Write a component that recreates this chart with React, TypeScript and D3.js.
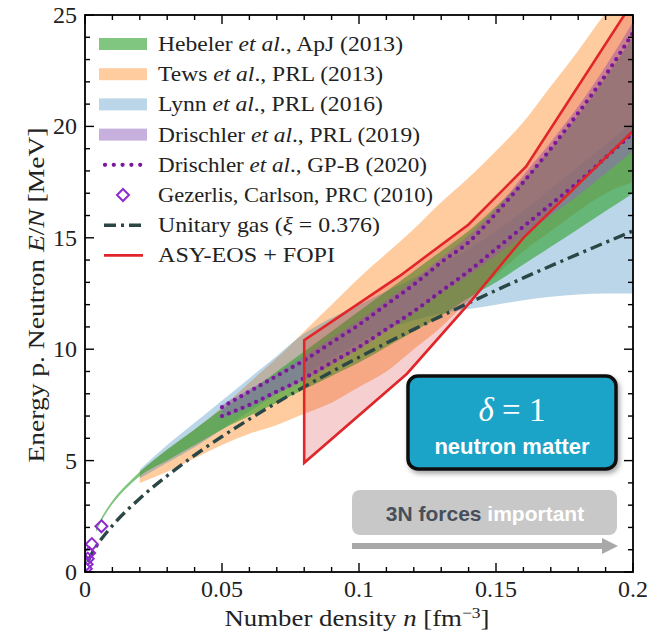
import React from "react";
import * as d3 from "d3";

// axis ticks
const densityTicks = [0, 0.05, 0.1, 0.15, 0.2];
const energyTicks = [0, 5, 10, 15, 20, 25];

// bands: [n, E lower, E upper] (MeV)
const hebeler = [
  [0.004, 1.8, 1.95], [0.007, 2.5, 2.65], [0.01, 3.05, 3.2], [0.015, 3.75, 3.9],
  [0.02, 4.3, 4.5], [0.03, 5.0, 5.5], [0.04, 5.7, 6.4], [0.05, 6.4, 7.3],
  [0.06, 7.0, 8.1], [0.07, 7.6, 9.0], [0.08, 8.2, 9.9], [0.09, 8.8, 10.8],
  [0.1, 9.4, 11.7], [0.11, 10.1, 12.6], [0.12, 10.8, 13.5], [0.13, 11.5, 14.4],
  [0.14, 12.3, 15.3], [0.15, 13.0, 16.4], [0.16, 13.8, 17.6], [0.17, 14.6, 19.0],
  [0.18, 15.4, 20.5], [0.19, 16.2, 22.2], [0.2, 17.0, 24.0],
];
const tews = [
  [0.02, 4.0, 4.5], [0.03, 4.5, 5.5], [0.04, 5.1, 6.4], [0.05, 5.7, 7.4],
  [0.06, 6.2, 8.5], [0.07, 6.6, 9.6], [0.08, 7.1, 10.8], [0.09, 7.6, 12.0],
  [0.1, 8.3, 13.2], [0.11, 9.0, 14.3], [0.12, 10.0, 15.4], [0.13, 11.0, 16.6],
  [0.14, 12.2, 17.7], [0.15, 13.3, 18.9], [0.16, 14.4, 20.2], [0.17, 15.3, 21.8],
  [0.18, 16.2, 23.4], [0.19, 17.0, 25.1], [0.2, 17.5, 26.5],
];
const lynn = [
  [0.02, 4.2, 4.6], [0.03, 4.9, 5.7], [0.04, 5.6, 6.7], [0.05, 6.4, 7.7],
  [0.06, 7.2, 8.7], [0.07, 8.0, 9.7], [0.08, 8.8, 10.7], [0.09, 9.6, 11.4],
  [0.1, 10.3, 12.0], [0.11, 10.9, 12.6], [0.12, 11.3, 13.2], [0.13, 11.6, 13.8],
  [0.14, 11.8, 14.5], [0.15, 12.0, 15.3], [0.16, 12.2, 16.2], [0.17, 12.35, 17.2],
  [0.18, 12.45, 18.2], [0.19, 12.5, 19.2], [0.2, 12.5, 20.2],
];
const drischler = [
  [0.05, 6.9, 7.5], [0.06, 7.4, 8.2], [0.07, 8.0, 8.9], [0.08, 8.6, 9.7],
  [0.09, 9.3, 10.5], [0.1, 10.0, 11.3], [0.11, 10.8, 12.2], [0.12, 11.6, 13.1],
  [0.13, 12.5, 14.1], [0.14, 13.3, 15.1], [0.15, 14.2, 16.3], [0.16, 15.1, 17.8],
  [0.17, 16.0, 19.3], [0.18, 16.9, 20.9], [0.19, 17.9, 22.7], [0.2, 18.9, 24.7],
];

// lines: [n, E]
const gpbUpper = [
  [0.05, 7.4], [0.06, 8.1], [0.07, 8.8], [0.08, 9.5], [0.09, 10.3], [0.1, 11.1],
  [0.11, 12.0], [0.12, 12.9], [0.13, 13.9], [0.14, 14.8], [0.15, 16.1], [0.16, 17.5],
  [0.17, 19.0], [0.18, 20.6], [0.19, 22.3], [0.2, 24.2],
];
const gpbLower = [
  [0.05, 7.0], [0.06, 7.5], [0.07, 8.1], [0.08, 8.7], [0.09, 9.4], [0.1, 10.1],
  [0.11, 10.9], [0.12, 11.7], [0.13, 12.6], [0.14, 13.5], [0.15, 14.5], [0.16, 15.5],
  [0.17, 16.5], [0.18, 17.5], [0.19, 18.6], [0.2, 19.7],
];
const gezerlis = [
  [0.0003, 0.15], [0.0006, 0.35], [0.001, 0.6], [0.0015, 0.85], [0.0025, 1.25], [0.006, 2.05],
];
const unitary = [
  [0.001, 0.45], [0.0025, 0.83], [0.005, 1.31], [0.01, 2.08], [0.02, 3.3], [0.03, 4.32],
  [0.04, 5.24], [0.05, 6.08], [0.06, 6.86], [0.08, 8.31], [0.1, 9.64], [0.12, 10.89],
  [0.14, 12.07], [0.16, 13.2], [0.18, 14.27], [0.2, 15.31],
];
const asyUpper = [[0.08, 10.4], [0.115, 13.3], [0.14, 15.6], [0.161, 18.2], [0.2, 25.6]];
const asyLower = [[0.08, 4.9], [0.1175, 8.9], [0.1405, 12.1], [0.16, 15.0], [0.2, 19.8]];

const legendLabels = [
  [["Hebeler ", 0], ["et al", 1], ["., ApJ (2013)", 0]],
  [["Tews ", 0], ["et al", 1], ["., PRL (2013)", 0]],
  [["Lynn ", 0], ["et al", 1], ["., PRL (2016)", 0]],
  [["Drischler ", 0], ["et al", 1], ["., PRL (2019)", 0]],
  [["Drischler ", 0], ["et al", 1], ["., GP-B (2020)", 0]],
  [["Gezerlis, Carlson, PRC (2010)", 0]],
  [["Unitary gas (", 0], ["ξ", 1], [" = 0.376)", 0]],
  [["ASY-EOS + FOPI", 0]],
];
const legendWidths = [245, 225, 225, 262, 269, 275, 222, 177];

const serif = "'Liberation Serif', 'Times New Roman', serif";
const sans = "'Liberation Sans', Arial, sans-serif";

const GREEN = "#2ca02c", ORANGE = "#ff7f0e", BLUE = "#1f77b4", PURPLE = "#9467bd";
const RED = "#e0262a", DOTS = "#7a1a9a", DIAMOND = "#8e2bd0", UNITARY = "#2b4745";

export default function App() {
  const left = 85, right = 633, top = 15, bottom = 572;
  const x = d3.scaleLinear().domain([0, 0.2]).range([left, right]);
  const y = d3.scaleLinear().domain([0, 25]).range([bottom, top]);

  const band = d3.area<number[]>()
    .x(d => x(d[0])).y0(d => y(d[1])).y1(d => y(d[2]))
    .curve(d3.curveMonotoneX);
  const curve = d3.line<number[]>().x(d => x(d[0])).y(d => y(d[1])).curve(d3.curveMonotoneX);
  const straight = d3.line<number[]>().x(d => x(d[0])).y(d => y(d[1]));

  const asyPath = [...asyLower.slice().reverse(), ...asyUpper];

  const xMinor = d3.range(0, 21).map(i => i * 0.01);
  const yMinor = d3.range(0, 26);

  const bands = [
    { data: tews, color: ORANGE, op: 0.4 },
    { data: lynn, color: BLUE, op: 0.3 },
    { data: hebeler, color: GREEN, op: 0.6 },
    { data: drischler, color: PURPLE, op: 0.52 },
  ];

  const rowY = (i: number) => 44 + i * 30.2;

  return (
    <div style={{ position: "absolute", left: 0, top: 0 }}>
      <svg width={662} height={634} style={{ display: "block", background: "#fff" }}>
        <defs>
          <clipPath id="plot">
            <rect x={left} y={top} width={right - left} height={bottom - top} />
          </clipPath>
          <filter id="shadow" x="-10%" y="-10%" width="130%" height="140%">
            <feDropShadow dx="2" dy="3" stdDeviation="2.5" floodColor="#000" floodOpacity="0.35" />
          </filter>
        </defs>

        <g clipPath="url(#plot)">
          {bands.map((b, i) => (
            <path key={i} d={band(b.data) || ""} fill={b.color} fillOpacity={b.op} stroke="none" />
          ))}
          <path d={(straight(asyPath) || "") + "Z"} fill="#d62728" fillOpacity={0.22} />
          <path d={curve(unitary) || ""} fill="none" stroke={UNITARY} strokeWidth={3.4}
            strokeDasharray="12,5,3,5" />
          {[gpbUpper, gpbLower].map((d, i) => (
            <path key={i} d={curve(d) || ""} fill="none" stroke={DOTS} strokeWidth={4.3}
              strokeLinecap="round" strokeDasharray="0,7.4" />
          ))}
          <path d={straight(asyPath) || ""} fill="none" stroke={RED} strokeWidth={2.6} />
          {gezerlis.map((d, i) => {
            const cx = x(d[0]), cy = y(d[1]), r = 6;
            return (
              <path key={i} d={`M${cx},${cy - r}L${cx + r},${cy}L${cx},${cy + r}L${cx - r},${cy}Z`}
                fill="none" stroke={DIAMOND} strokeWidth={2} />
            );
          })}
        </g>

        {/* frame and ticks */}
        <rect x={left} y={top} width={right - left} height={bottom - top} fill="none" stroke="#000" strokeWidth={1.8} />
        <g stroke="#000" strokeWidth={1.4}>
          {xMinor.map((v, i) => {
            const len = i % 5 === 0 ? 9 : 5;
            const px = x(v);
            return (
              <g key={"x" + i}>
                <line x1={px} x2={px} y1={bottom} y2={bottom - len} />
                <line x1={px} x2={px} y1={top} y2={top + len} />
              </g>
            );
          })}
          {yMinor.map((v, i) => {
            const len = i % 5 === 0 ? 9 : 5;
            const py = y(v);
            return (
              <g key={"y" + i}>
                <line x1={left} x2={left + len} y1={py} y2={py} />
                <line x1={right} x2={right - len} y1={py} y2={py} />
              </g>
            );
          })}
        </g>
        <g fontFamily={serif} fontSize={24} fill="#222">
          {densityTicks.map(v => (
            <text key={v} x={x(v)} y={597} textAnchor="middle">{String(v)}</text>
          ))}
          {energyTicks.map(v => (
            <text key={v} x={77} y={y(v) + 8} textAnchor="end">{String(v)}</text>
          ))}
        </g>
        <text x={357} y={626} textAnchor="middle" fontFamily={serif} fontSize={23} fill="#222"
          textLength={265} lengthAdjust="spacingAndGlyphs">
          Number density <tspan fontStyle="italic">n</tspan> [fm<tspan dy={-8} fontSize={15}>−3</tspan><tspan dy={8}>]</tspan>
        </text>
        <text transform="translate(44,295) rotate(-90)" textAnchor="middle" fontFamily={serif} fontSize={24} fill="#222"
          textLength={335} lengthAdjust="spacingAndGlyphs">
          Energy p. Neutron <tspan fontStyle="italic">E</tspan>/<tspan fontStyle="italic">N</tspan> [MeV]
        </text>

        {/* legend */}
        <g>
          {[GREEN, ORANGE, BLUE, PURPLE].map((c, i) => (
            <rect key={i} x={99} y={rowY(i) - 6} width={48} height={12}
              fill={c} fillOpacity={bands.find(b => b.color === c)!.op} />
          ))}
          <line x1={105} x2={142} y1={rowY(4)} y2={rowY(4)} stroke={DOTS} strokeWidth={4.3}
            strokeLinecap="round" strokeDasharray="0,8.8" />
          <path d={`M123,${rowY(5) - 6}L129,${rowY(5)}L123,${rowY(5) + 6}L117,${rowY(5)}Z`}
            fill="none" stroke={DIAMOND} strokeWidth={2} />
          <line x1={104} x2={143} y1={rowY(6)} y2={rowY(6)} stroke={UNITARY} strokeWidth={3.4}
            strokeDasharray="12,5,3,5" />
          <line x1={104} x2={143} y1={rowY(7)} y2={rowY(7)} stroke={RED} strokeWidth={2.6} />
          {legendLabels.map((parts, i) => (
            <text key={i} x={158} y={rowY(i) + 7} fontFamily={serif} fontSize={21} fill="#222"
              textLength={legendWidths[i]} lengthAdjust="spacingAndGlyphs">
              {parts.map((p, j) => (
                <tspan key={j} fontStyle={p[1] ? "italic" : "normal"}>{p[0]}</tspan>
              ))}
            </text>
          ))}
        </g>

        {/* annotation box */}
        <rect x={408} y={376} width={208} height={93} rx={10} fill="#1ba3c8" stroke="#111"
          strokeWidth={3.5} filter="url(#shadow)" />
        <text x={512} y={421} textAnchor="middle" fontFamily={serif} fontSize={33} fill="#fff">
          <tspan fontStyle="italic">δ</tspan> = 1
        </text>
        <text x={512} y={454} textAnchor="middle" fontFamily={sans} fontWeight="bold" fontSize={22} fill="#fff">
          neutron matter
        </text>

        <rect x={352} y={490} width={265} height={45} rx={8} fill="#c8c8c8" />
        <text x={485} y={521} textAnchor="middle" fontFamily={sans} fontWeight="bold" fontSize={21}>
          <tspan fill="#47505a">3N forces </tspan><tspan fill="#fff">important</tspan>
        </text>
        <line x1={352} x2={604} y1={546} y2={546} stroke="#a8a8a8" strokeWidth={6} />
        <path d="M602,538L618,546L602,554Z" fill="#a8a8a8" />
      </svg>
    </div>
  );
}
